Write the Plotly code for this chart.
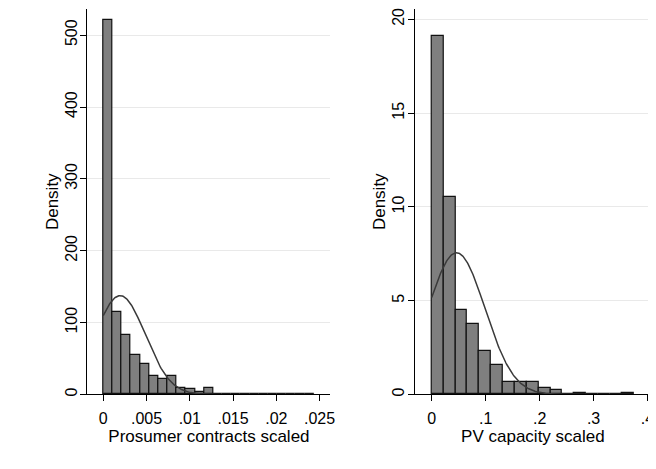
import numpy as np
import plotly.graph_objects as go

# ---- Left panel: Prosumer contracts scaled ----
left_bin_start = 0.0
left_bin_width = 0.00106
left_density = [521, 115, 83, 55, 43, 26, 22, 26, 9, 7, 4, 9,
                0, 0, 0, 0, 0, 0, 0, 0, 0, 0, 1]
left_mean = 0.00195
left_sd = 0.0029
left_xticks = [0, 0.005, 0.01, 0.015, 0.02, 0.025]
left_xticklabels = ["0", ".005", ".01", ".015", ".02", ".025"]
left_yticks = [0, 100, 200, 300, 400, 500]

# ---- Right panel: PV capacity scaled ----
right_bin_start = 0.0
right_bin_width = 0.022
right_density = [19.1, 10.55, 4.5, 3.77, 2.31, 1.55, 0.67, 0.67, 0.67,
                 0.37, 0.25, 0, 0.1, 0, 0, 0, 0.1]
right_mean = 0.046
right_sd = 0.0528
right_xticks = [0, 0.1, 0.2, 0.3, 0.4]
right_xticklabels = ["0", ".1", ".2", ".3", ".4"]
right_yticks = [0, 5, 10, 15, 20]

# page has an 8px body margin, so the figure is drawn 8px in from the window
W, H = 648, 461
FONT = "Liberation Sans, Arial, sans-serif"
BAR_FILL = "#7f7f7f"
BAR_LINE = "#111111"
CURVE = "#3a3a3a"
GRID = "#e9e9e9"


def centers(start, width, n):
    return [start + width * (i + 0.5) for i in range(n)]


def normal_curve(mean, sd, lo, hi, n=300):
    xs = np.linspace(lo, hi, n)
    ys = np.exp(-0.5 * ((xs - mean) / sd) ** 2) / (sd * np.sqrt(2 * np.pi))
    return xs, ys


fig = go.Figure()

fig.add_trace(go.Bar(
    x=centers(left_bin_start, left_bin_width, len(left_density)),
    y=left_density, width=left_bin_width,
    marker=dict(color=BAR_FILL, line=dict(color=BAR_LINE, width=1.2)),
    xaxis="x", yaxis="y", showlegend=False, hoverinfo="skip"))
lx, ly = normal_curve(left_mean, left_sd, left_bin_start,
                      left_bin_start + left_bin_width * len(left_density))
fig.add_trace(go.Scatter(x=lx, y=ly, mode="lines",
                         line=dict(color=CURVE, width=1.5),
                         xaxis="x", yaxis="y", showlegend=False, hoverinfo="skip"))

fig.add_trace(go.Bar(
    x=centers(right_bin_start, right_bin_width, len(right_density)),
    y=right_density, width=right_bin_width,
    marker=dict(color=BAR_FILL, line=dict(color=BAR_LINE, width=1.2)),
    xaxis="x2", yaxis="y2", showlegend=False, hoverinfo="skip"))
rx, ry = normal_curve(right_mean, right_sd, right_bin_start,
                      right_bin_start + right_bin_width * len(right_density))
fig.add_trace(go.Scatter(x=rx, y=ry, mode="lines",
                         line=dict(color=CURVE, width=1.5),
                         xaxis="x2", yaxis="y2", showlegend=False, hoverinfo="skip"))

OFF = 8
base_y = 396 - OFF
ydom = [1 - base_y / H, 1.0]
LPX = 0.7234    # px per density unit, left
RPX = 18.88     # px per density unit, right
LXPX = 8720     # px per x unit, left
RXPX = 543.75   # px per x unit, right

common_x = dict(showgrid=False, zeroline=False, showline=True, linecolor="black",
                linewidth=1, ticks="outside", ticklen=6, tickcolor="black",
                ticklabelstandoff=3, ticklabeloverflow="allow",
                tickfont=dict(family=FONT, size=16, color="black"),
                title_font=dict(family=FONT, size=17, color="black"),
                title_standoff=0)
common_y = dict(showgrid=True, gridcolor=GRID, gridwidth=1, zeroline=False,
                showline=True, linecolor="black", linewidth=1, ticks="outside",
                ticklen=6, tickcolor="black", tickangle=-90,
                ticklabelstandoff=-3, ticklabeloverflow="allow",
                tickfont=dict(family=FONT, size=16, color="black"),
                title_font=dict(family=FONT, size=17, color="black"),
                title_standoff=0)

fig.update_layout(
    width=W, height=H, autosize=False,
    margin=dict(l=0, r=0, t=0, b=0),
    paper_bgcolor="white", plot_bgcolor="white",
    bargap=0, barmode="overlay",
    xaxis=dict(common_x, domain=[(88 - OFF) / W, (333 - OFF) / W], anchor="y",
               range=[(88 - 104) / LXPX, (333 - 104) / LXPX],
               tickvals=left_xticks, ticktext=left_xticklabels,
               title_text="Prosumer contracts scaled"),
    yaxis=dict(common_y, domain=ydom, anchor="x",
               range=[0, base_y / LPX],
               tickvals=left_yticks, title_text="Density"),
    xaxis2=dict(common_x, domain=[(418 - OFF) / W, 1.0], anchor="y2",
                range=[(418 - 435) / RXPX, (656 - 435) / RXPX],
                tickvals=right_xticks, ticktext=right_xticklabels,
                title_text="PV capacity scaled"),
    yaxis2=dict(common_y, domain=ydom, anchor="x2",
                range=[0, base_y / RPX],
                tickvals=right_yticks, title_text="Density"),
)

fig.write_html("out.html")
